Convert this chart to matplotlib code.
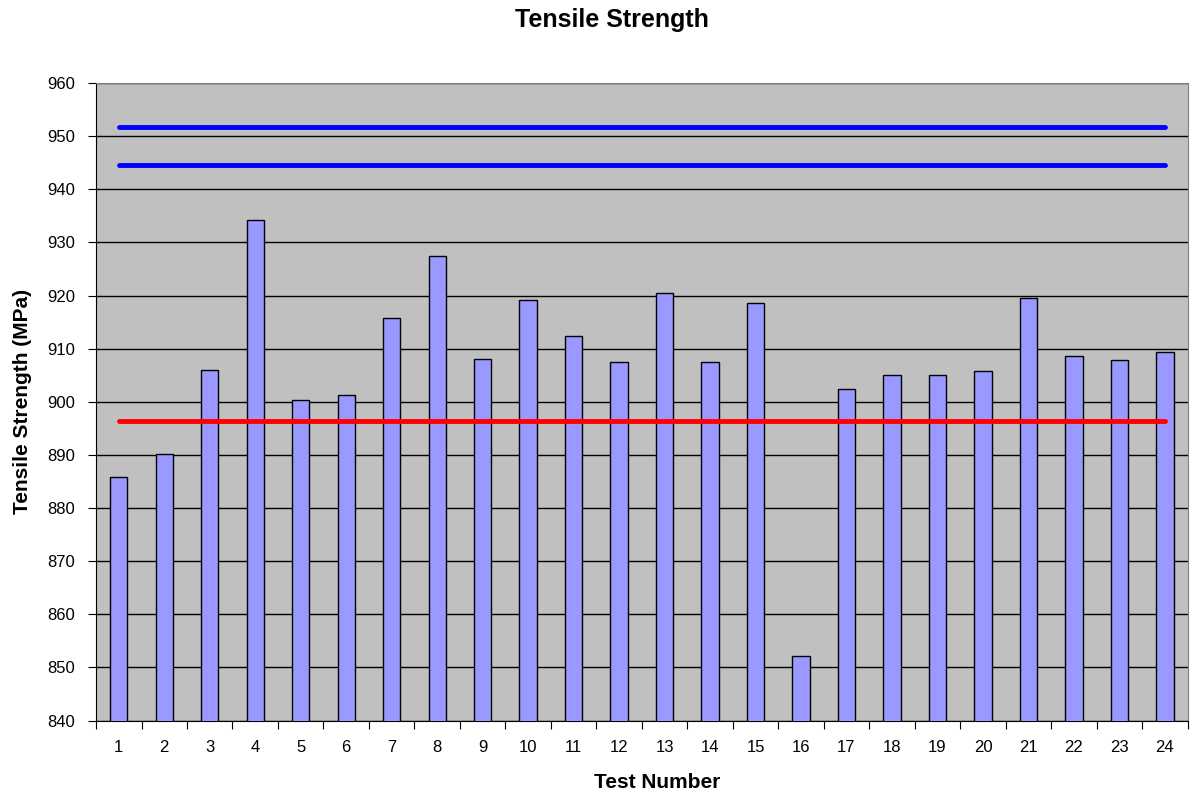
import numpy as np
import matplotlib.pyplot as plt

plt.rcParams['font.family'] = ['Liberation Sans', 'DejaVu Sans']

# test results
tests = list(range(1, 25))
strength = [885.9, 890.2, 906.0, 934.3, 900.4, 901.2, 915.7, 927.5,
            908.1, 919.2, 912.3, 907.4, 920.5, 907.4, 918.5, 852.2,
            902.5, 905.0, 905.0, 905.8, 919.6, 908.7, 907.9, 909.4]
upper_limit = 951.7
lower_limit = 944.5
min_spec = 896.4

fig = plt.figure(figsize=(11.9, 7.94), dpi=100)
ax = fig.add_axes([0.0807, 0.0924, 0.9173, 0.8031])
ax.set_facecolor('#C0C0C0')

x = np.arange(len(tests))
ax.bar(x, strength, width=0.38, color='#9999FF', edgecolor='black',
       linewidth=1.0, zorder=3)

ax.plot(x, [upper_limit] * len(x), color='#0000FF', lw=3.5,
        solid_capstyle='round', zorder=4)
ax.plot(x, [lower_limit] * len(x), color='#0000FF', lw=3.5,
        solid_capstyle='round', zorder=4)
ax.plot(x, [min_spec] * len(x), color='#FF0000', lw=3.5,
        solid_capstyle='round', zorder=4)

ax.set_xlim(-0.5, len(x) - 0.5)
ax.set_ylim(840, 960)
ax.set_yticks(np.arange(840, 961, 10))
ax.yaxis.grid(True, color='black', lw=1.0, zorder=1)
ax.set_axisbelow(True)

# category ticks between bars, labels centred
ax.set_xticks(np.arange(-0.5, len(x), 1.0))
ax.set_xticklabels([])
ax.set_xticks(x, minor=True)
ax.set_xticklabels([str(t) for t in tests], minor=True)
ax.tick_params(axis='x', which='minor', length=0, pad=14, labelsize=12)
ax.tick_params(axis='x', which='major', length=6, direction='out')
ax.tick_params(axis='y', length=6, direction='out', labelsize=12, pad=9)

for s in ['top', 'right']:
    ax.spines[s].set_color('#808080')
ax.spines['left'].set_color('black')
ax.spines['bottom'].set_color('black')

ax.set_xlabel('Test Number', fontsize=15, fontweight='bold')
ax.xaxis.label.set_va('baseline')
ax.xaxis.set_label_coords(0.514, -0.1055)
ax.set_ylabel('Tensile Strength (MPa)', fontsize=15, fontweight='bold')
ax.yaxis.label.set_va('center')
ax.yaxis.set_label_coords(-0.0678, 0.5)
fig.text(0.514, 0.966, 'Tensile Strength', ha='center', va='baseline',
         fontsize=18, fontweight='bold')

fig.savefig('out.png', dpi=100)
